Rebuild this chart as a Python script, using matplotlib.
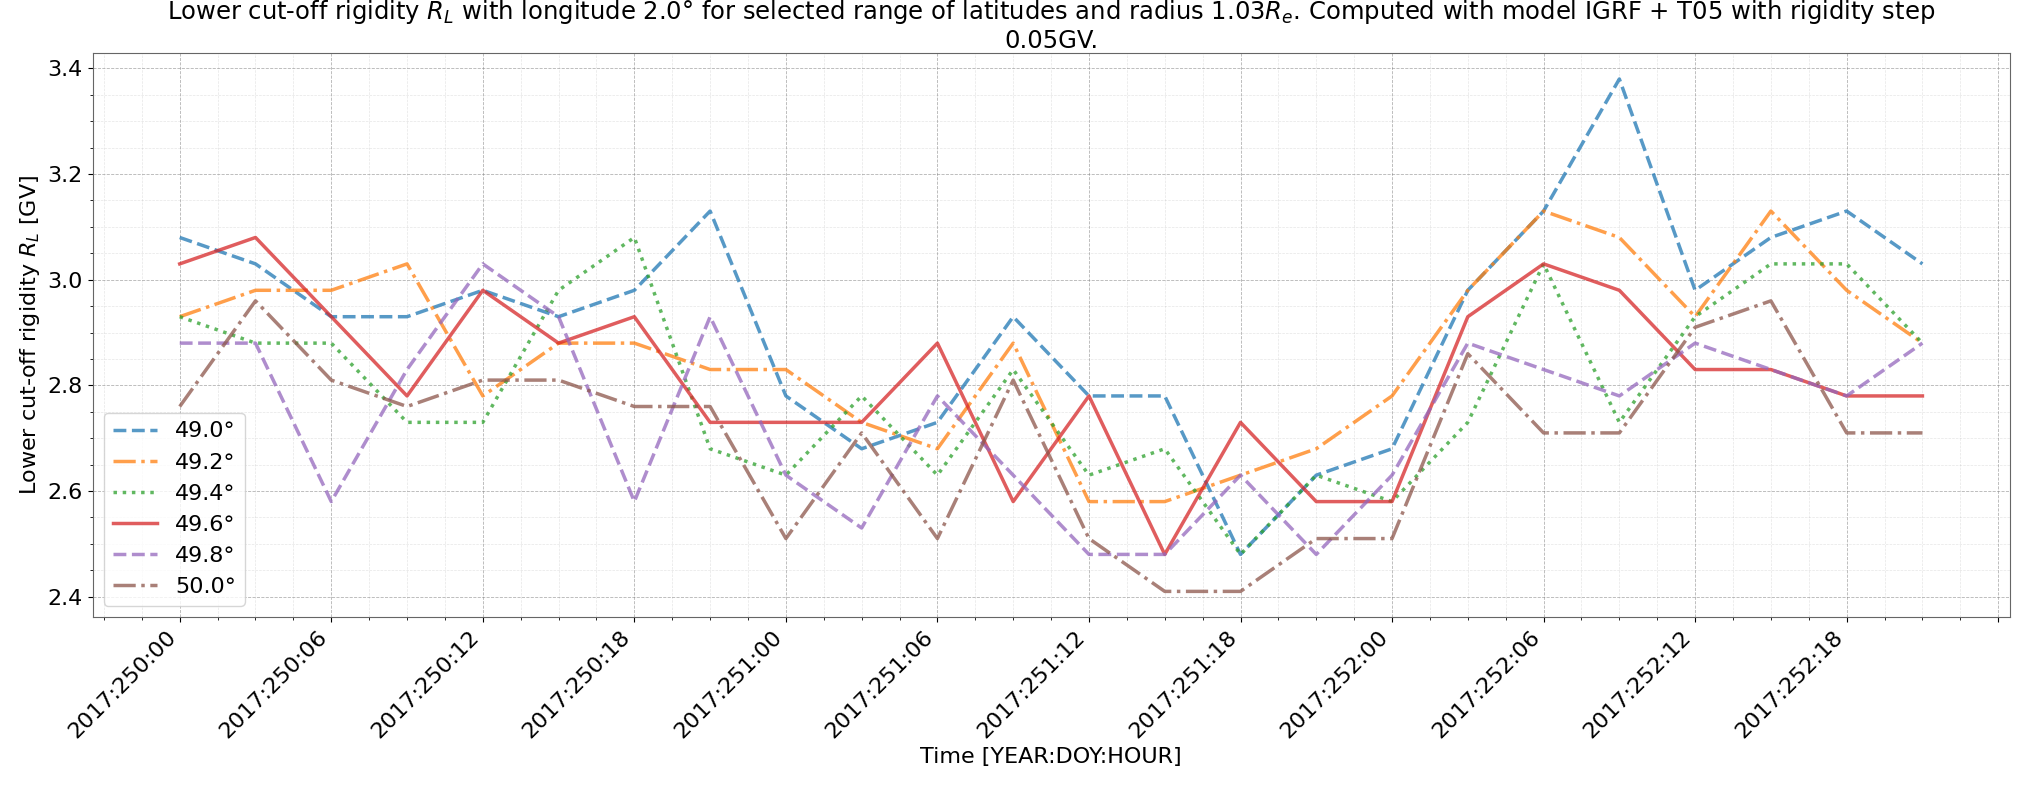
import numpy as np
import matplotlib
matplotlib.use("Agg")
import matplotlib.pyplot as plt
from matplotlib.ticker import AutoMinorLocator

# hours since 2017:250:00, step 3h
hours = list(range(0, 70, 3))

tick_labels = ["2017:250:00", "2017:250:06", "2017:250:12", "2017:250:18",
               "2017:251:00", "2017:251:06", "2017:251:12", "2017:251:18",
               "2017:252:00", "2017:252:06", "2017:252:12", "2017:252:18"]

latitudes = [49.0, 49.2, 49.4, 49.6, 49.8, 50.0]

rl_490 = [3.08, 3.03, 2.93, 2.93, 2.98, 2.93, 2.98, 3.13, 2.78, 2.68, 2.73, 2.93,
          2.78, 2.78, 2.48, 2.63, 2.68, 2.98, 3.13, 3.38, 2.98, 3.08, 3.13, 3.03]
rl_492 = [2.93, 2.98, 2.98, 3.03, 2.78, 2.88, 2.88, 2.83, 2.83, 2.73, 2.68, 2.88,
          2.58, 2.58, 2.63, 2.68, 2.78, 2.98, 3.13, 3.08, 2.93, 3.13, 2.98, 2.88]
rl_494 = [2.93, 2.88, 2.88, 2.73, 2.73, 2.98, 3.08, 2.68, 2.63, 2.78, 2.63, 2.83,
          2.63, 2.68, 2.48, 2.63, 2.58, 2.73, 3.03, 2.73, 2.93, 3.03, 3.03, 2.88]
rl_496 = [3.03, 3.08, 2.93, 2.78, 2.98, 2.88, 2.93, 2.73, 2.73, 2.73, 2.88, 2.58,
          2.78, 2.48, 2.73, 2.58, 2.58, 2.93, 3.03, 2.98, 2.83, 2.83, 2.78, 2.78]
rl_498 = [2.88, 2.88, 2.58, 2.83, 3.03, 2.93, 2.58, 2.93, 2.63, 2.53, 2.78, 2.63,
          2.48, 2.48, 2.63, 2.48, 2.63, 2.88, 2.83, 2.78, 2.88, 2.83, 2.78, 2.88]
rl_500 = [2.76, 2.96, 2.81, 2.76, 2.81, 2.81, 2.76, 2.76, 2.51, 2.71, 2.51, 2.81,
          2.51, 2.41, 2.41, 2.51, 2.51, 2.86, 2.71, 2.71, 2.91, 2.96, 2.71, 2.71]

series = [rl_490, rl_492, rl_494, rl_496, rl_498, rl_500]
styles = ['--', '-.', ':', '-', '--', '-.']

fig = plt.figure(figsize=(20.35, 7.85), dpi=100)
ax = fig.add_axes([0.0455, 0.214, 0.942, 0.718])

for lat, vals, ls in zip(latitudes, series, styles):
    ax.plot(hours, vals, linestyle=ls, linewidth=2.5, alpha=0.75, label=f"{lat:.1f}°")

# 13 major ticks but only 12 labels, as in the original
ax.set_xticks(range(0, 73, 6))
ax.set_xticklabels(tick_labels + [''], rotation=45, ha='right')
ax.xaxis.set_minor_locator(AutoMinorLocator(4))
ax.yaxis.set_minor_locator(AutoMinorLocator(4))
ax.tick_params(axis='both', which='major', labelsize=16)

ax.grid(which='major', linestyle='--', linewidth=0.6, color='gray', alpha=0.6)
ax.grid(which='minor', linestyle='--', linewidth=0.5, color='gray', alpha=0.2)
for sp in ax.spines.values():
    sp.set_color('0.4')

ax.set_xlabel("Time [YEAR:DOY:HOUR]", fontsize=16)
ax.set_ylabel("Lower cut-off rigidity $R_L$ [GV]", fontsize=16)
ax.set_title("Lower cut-off rigidity $R_L$ with longitude 2.0° for selected range of latitudes and radius "
             "1.03$R_e$. Computed with model IGRF + T05 with rigidity step\n0.05GV.", fontsize=17.5, pad=1)
ax.legend(loc='lower left', fontsize=16)

fig.savefig("out.png", dpi=100)
